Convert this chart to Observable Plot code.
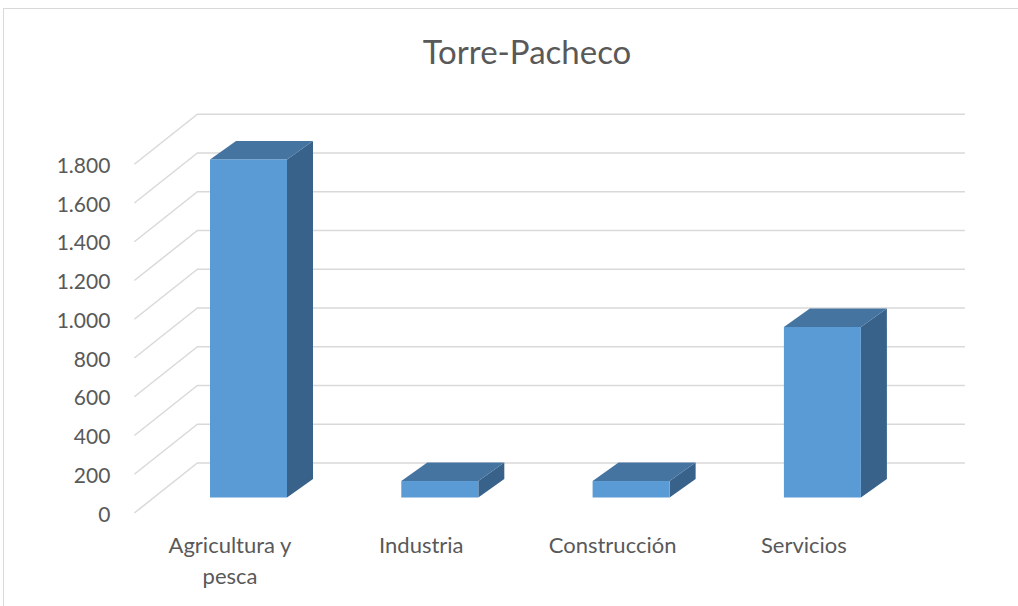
<!DOCTYPE html>
<html><head><meta charset="utf-8">
<script src="https://cdn.jsdelivr.net/npm/d3@7"></script>
<script src="https://cdn.jsdelivr.net/npm/@observablehq/plot@0.6"></script>
<style>
body{margin:0;background:#fff;overflow:hidden}
#wrap{position:relative;width:1018px;height:606px;overflow:hidden}
#chart{position:absolute;left:0;top:0}
#border{position:absolute;left:3px;top:8px;width:1100px;height:700px;border:1.5px solid #d9d9d9;box-sizing:border-box;pointer-events:none}
#title{position:absolute;left:0;width:1054px;top:31px;text-align:center;font:33px Lato, sans-serif;color:#595959}
</style></head><body>
<div id="wrap"><div id="chart"></div><div id="border"></div><div id="title">Torre-Pacheco</div></div>
<script>
// ---- data ----
const categories = ["Agricultura y\npesca", "Industria", "Construcción", "Servicios"];
const values = [1745, 85, 85, 880];
const yTicks = [0, 200, 400, 600, 800, 1000, 1200, 1400, 1600, 1800];

// ---- geometry (pixel layout of the oblique projection) ----
const W = 1018, H = 606;
const x0px = 229.5, stepPx = 191.3;      // category centres on the label plane
const y0px = 512.5, pxPerUnit = 38.75 / 200;
const wall = {dx: 63, dy: -50};           // back wall offset
const front = {dx: 19, dy: -15};          // bar front face offset
const barDepth = {dx: 26, dy: -18.5};     // bar depth
const halfW = 38.5 / stepPx;
const ux = px => px / stepPx;
const uy = px => -px / pxPerUnit;

const fmt = d3.formatLocale({decimal: ",", thousands: ".", grouping: [3], currency: ["", "€"]}).format(",");

const bars = categories.map((c, i) => ({cat: c, i, v: values[i]}));
const bdx = ux(barDepth.dx), bdy = uy(barDepth.dy);
const sidePts = bars.flatMap(b => [
  {cat: b.cat, x: b.i + halfW, y1: 0, y2: b.v},
  {cat: b.cat, x: b.i + halfW + bdx, y1: bdy, y2: b.v + bdy}
]);
const topPts = bars.flatMap(b => [
  {cat: b.cat, y: b.v, x1: b.i - halfW, x2: b.i + halfW},
  {cat: b.cat, y: b.v + bdy, x1: b.i - halfW + bdx, x2: b.i + halfW + bdx}
]);

const chart = Plot.plot({
  width: W, height: H, margin: 0,
  x: {type: "linear", domain: [(0 - x0px) / stepPx, (W - x0px) / stepPx], range: [0, W], axis: null},
  y: {type: "linear", domain: [(y0px - H) / pxPerUnit, y0px / pxPerUnit], range: [H, 0], axis: null},
  style: {fontFamily: "Lato, sans-serif", color: "#595959", background: "transparent"},
  marks: [
    // back wall gridlines
    Plot.ruleY(yTicks, {x1: -0.5, x2: categories.length - 0.485, dx: wall.dx, dy: wall.dy, stroke: "#d9d9d9", strokeWidth: 1.5}),
    // side wall diagonals
    Plot.link(yTicks, {x1: -0.5, y1: d => d, x2: -0.5 + ux(wall.dx), y2: d => d + uy(wall.dy), stroke: "#d9d9d9", strokeWidth: 1.5}),
    // bar faces
    Plot.areaY(sidePts, {x: "x", y1: "y1", y2: "y2", z: "cat", fill: "#38628a", dx: front.dx, dy: front.dy}),
    Plot.areaX(topPts, {y: "y", x1: "x1", x2: "x2", z: "cat", fill: "#4574a1", dx: front.dx, dy: front.dy}),
    Plot.rect(bars, {x1: d => d.i - halfW, x2: d => d.i + halfW, y1: 0, y2: "v", fill: "#5b9bd5", dx: front.dx, dy: front.dy}),
    // y tick labels
    Plot.text(yTicks, {x: -0.5, y: d => d, text: d => fmt(d), textAnchor: "end", dx: -24, dy: 2, fontSize: 21, fill: "#595959"}),
    // category labels
    Plot.text(bars, {x: "i", y: 0, text: "cat", lineAnchor: "top", dy: 18, fontSize: 22, lineHeight: 1.41, fill: "#595959"})
  ]
});
document.getElementById("chart").appendChild(chart);
</script>
</body></html>
